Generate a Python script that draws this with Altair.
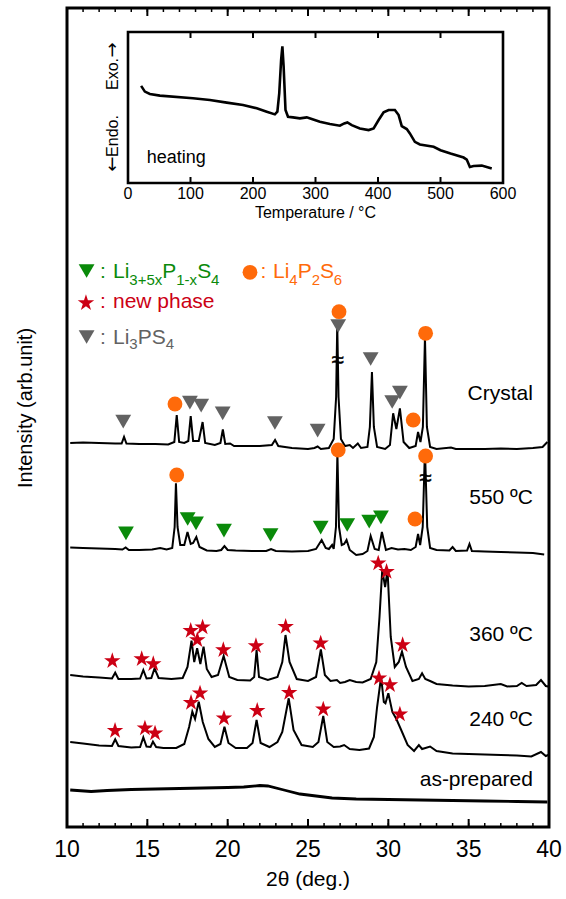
import altair as alt
import pandas as pd

# ---------------- XRD patterns: 2theta (deg) and stacked intensity (arb. unit) ----------------
crystal_tt = [10.2, 11.0, 12.0, 13.0, 13.4, 13.55, 13.7, 14.5, 15.5, 16.3, 16.68, 16.83, 16.98, 17.3, 17.55, 17.7, 17.85, 18.2, 18.44, 18.6, 19.2, 19.55, 19.7, 19.85, 20.15, 20.4, 21.0, 22.0, 22.75, 22.95, 23.15, 24.0, 25.0, 25.4, 25.6, 25.8, 26.3, 26.6, 26.75, 26.82, 26.9, 27.05, 27.3, 27.6, 27.8, 28.1, 28.3, 28.7, 28.85, 28.98, 29.1, 29.3, 29.8, 30.1, 30.3, 30.5, 30.72, 30.95, 31.3, 31.7, 31.85, 32.0, 32.15, 32.28, 32.4, 32.6, 33.0, 33.9, 34.2, 35.0, 36.0, 37.0, 38.0, 39.0, 39.6, 39.9]
crystal_I = [384, 384.5, 384, 383.5, 383.5, 390, 383.5, 383, 383, 382.5, 385, 412, 385, 384, 386, 411, 386, 386, 405, 384, 382, 384, 397.5, 383, 383.5, 381, 381, 381, 382, 387, 381, 379, 378, 379, 380.5, 378, 379, 388, 430, 503, 430, 388, 381, 382, 379, 383.5, 379, 380, 400, 455, 400, 380, 378, 382, 413.7, 398, 418.7, 385, 379, 381, 395, 385, 400, 490, 400, 380, 378, 379.5, 378, 378, 378, 378.5, 378, 379, 380, 385]

c550_tt = [10.2, 11.0, 12.0, 13.0, 13.45, 13.65, 13.85, 14.5, 15.3, 15.8, 16.2, 16.55, 16.7, 16.78, 16.88, 17.05, 17.3, 17.5, 17.7, 17.85, 18.05, 18.25, 18.7, 19.3, 19.6, 19.8, 20.0, 20.5, 21.5, 22.4, 22.7, 23.0, 24.0, 25.0, 25.5, 25.85, 26.1, 26.3, 26.5, 26.6, 26.74, 26.83, 26.93, 27.1, 27.25, 27.4, 27.6, 28.0, 28.4, 28.7, 28.9, 29.15, 29.4, 29.6, 29.85, 30.2, 30.6, 31.0, 31.4, 31.7, 31.85, 31.98, 32.14, 32.28, 32.42, 32.6, 33.0, 33.8, 34.0, 34.2, 34.9, 35.05, 35.2, 36.0, 37.0, 38.0, 39.0, 39.7]
c550_I = [279.5, 279, 278.5, 278, 277.5, 279.5, 277, 277, 277.5, 279, 277.5, 279, 300, 343.7, 300, 282, 282, 295, 283, 284, 290, 280, 276.5, 276, 277, 281, 277, 276.5, 276, 276, 278, 276, 275.5, 276, 278, 287, 279, 278, 282, 278, 300, 373.7, 300, 282, 283, 287, 277, 272, 273, 276, 291, 278, 277, 295, 277, 279, 277.5, 278, 277, 280, 293, 282, 300, 378, 300, 279, 277, 276.5, 280, 276, 276.5, 283, 276, 275.5, 275, 274.5, 274, 272.5]

c360_tt = [10.2, 11.0, 12.0, 12.8, 13.0, 13.2, 14.0, 14.55, 14.75, 14.95, 15.25, 15.45, 15.7, 16.5, 17.2, 17.5, 17.75, 17.92, 18.1, 18.3, 18.5, 18.7, 19.0, 19.4, 19.75, 20.1, 20.6, 21.4, 21.65, 21.8, 21.95, 22.5, 23.1, 23.4, 23.6, 23.85, 24.3, 25.0, 25.5, 25.8, 26.05, 26.4, 26.8, 27.0, 27.3, 27.6, 28.0, 28.4, 28.9, 29.25, 29.45, 29.62, 29.8, 29.95, 30.15, 30.4, 30.65, 30.85, 31.1, 31.5, 31.9, 32.1, 32.3, 32.6, 33.0, 34.0, 35.0, 36.0, 37.0, 37.4, 38.0, 38.3, 38.6, 39.2, 39.5, 39.8, 39.95]
c360_I = [152, 150.5, 149.5, 148.5, 154.3, 148, 148, 148.5, 157, 148.5, 149, 158.7, 149, 148, 149, 160, 186.3, 165, 178.7, 163, 180.3, 158, 150, 152, 171, 150, 147, 146.5, 150, 177, 150, 147, 150, 165, 192, 165, 148, 146, 150, 177.7, 152, 146, 147, 144, 145, 147, 145, 144.5, 148, 165, 210, 257, 240, 257, 190, 160, 165, 175.3, 160, 146, 148, 153.7, 148, 146, 143, 141.5, 140.5, 141, 143, 140.5, 141, 144, 141, 142, 147, 141, 140.5]

c240_tt = [10.2, 11.0, 12.0, 12.8, 13.0, 13.2, 14.0, 14.55, 14.75, 14.95, 15.2, 15.35, 15.55, 16.0, 16.8, 17.3, 17.6, 17.8, 17.97, 18.2, 18.45, 18.8, 19.2, 19.55, 19.8, 20.05, 20.5, 21.2, 21.55, 21.8, 22.05, 22.6, 23.1, 23.4, 23.8, 24.1, 24.6, 25.3, 25.65, 25.95, 26.2, 26.6, 27.0, 27.25, 27.6, 28.2, 28.8, 29.1, 29.3, 29.55, 29.72, 29.82, 30.0, 30.25, 30.5, 30.8, 31.2, 31.6, 31.9, 32.1, 32.6, 33.0, 34.0, 35.0, 36.0, 37.0, 38.0, 38.9, 39.5, 39.8, 39.95]
c240_I = [85, 83.5, 81.5, 81, 87.7, 81, 79.5, 80, 89.7, 80.5, 80, 85.3, 80, 79, 79, 83, 100, 115.3, 108, 125.3, 105, 88, 80, 83, 100.3, 84, 79, 79, 84, 107, 84, 80, 85, 95, 128.7, 97, 82, 80, 85, 111, 85, 80, 80.5, 82, 78, 77, 78.5, 90, 120, 150, 125, 123.7, 133.7, 115, 108, 97, 82, 76, 82, 78, 80.5, 76, 73.5, 73, 72.5, 72, 71.5, 70.5, 75, 71, 72]

asprep_tt = [10.2, 11.5, 12.5, 14.0, 15.5, 17.0, 18.5, 20.0, 21.0, 22.0, 22.5, 23.5, 24.5, 25.5, 26.5, 28.0, 30.0, 32.0, 34.0, 36.0, 38.0, 39.9]
asprep_I = [37, 35.5, 36.5, 37.5, 38, 38.5, 39, 39.5, 40, 41.5, 41, 37, 33, 31, 29, 28, 27.5, 27, 26.5, 26, 25.5, 25]

pattern_names = ["Crystal", "550 ºC", "360 ºC", "240 ºC"]
pattern_tt = [crystal_tt, c550_tt, c360_tt, c240_tt]
pattern_I = [crystal_I, c550_I, c360_I, c240_I]
label_names = ["Crystal", "550 ºC", "360 ºC", "240 ºC", "as-prepared"]
label_I = [433, 329, 192, 107, 47]
label_tt = [39.0, 39.0, 39.0, 39.0, 39.0]

# ---------------- phase markers (last item of each list = legend symbol) ----------------
gray_tt = [13.50, 17.65, 18.35, 19.69, 22.94, 25.60, 26.88, 28.90, 30.24, 30.72, 11.22]
gray_I = [405.3, 424.3, 421.3, 413.7, 404, 396.3, 501, 468, 425, 434.3, 490]
green_tt = [13.67, 17.51, 18.03, 19.77, 22.67, 25.79, 27.44, 28.81, 29.54, 11.22]
green_I = [293.7, 308, 303.7, 296.3, 292, 299.3, 302, 305.3, 309.7, 556]
orange_tt = [16.72, 26.93, 31.55, 32.32, 16.83, 26.88, 31.66, 32.32, 21.39]
orange_I = [423, 515.3, 407, 493.7, 352, 377, 308, 371, 554.7]
star_tt = [12.82, 14.65, 15.37, 17.70, 18.11, 18.44, 19.73, 21.76, 23.61, 25.79, 29.37, 29.89, 30.89,
           12.99, 14.85, 15.48, 17.72, 18.28, 19.77, 21.84, 23.83, 25.95, 29.42, 30.10, 30.72, 11.18]
star_I = [166, 168, 163, 196.3, 187, 199.7, 177, 181, 200.3, 183.7, 263.7, 255.3, 182,
          96.3, 98.7, 93.7, 124.3, 133.7, 108.7, 116.3, 134.3, 117.7, 148.7, 142, 112.7, 524]

# axis-break marks on clipped peaks
break_tt = [26.84, 32.30]
break_I = [467, 349]

# legend text pieces: (text, 2theta, intensity)
leg_green_main = [(":", 12.05, 549), ("Li", 12.86, 549), ("P", 15.93, 549), ("S", 18.10, 549)]
leg_green_sub = [("3+5x", 13.88, 542), ("1-x", 16.80, 542), ("4", 18.97, 542)]
leg_orange_main = [(":", 22.05, 549), ("Li", 22.82, 549), ("P", 24.36, 549), ("S", 25.74, 549)]
leg_orange_sub = [("4", 23.83, 542), ("2", 25.23, 542), ("6", 26.61, 542)]
leg_red_main = [(":", 12.05, 519), ("new phase", 12.86, 519)]
leg_gray_main = [(":", 12.05, 483), ("Li", 12.86, 483), ("PS", 14.40, 483)]
leg_gray_sub = [("3", 13.88, 478), ("4", 16.14, 478)]

# axis ticks
x_major = [10, 15, 20, 25, 30, 35, 40]
x_minor = list(range(10, 41))
x_title = "2θ (deg.)"
y_title = "Intensity (arb.unit)"

# ---------------- DSC inset ----------------
dsc_T = [21, 27, 35, 51, 104, 131, 158, 184, 206, 222, 235, 239, 242, 245, 247, 249, 252, 256, 264, 275, 286, 294, 307, 323, 339, 346, 351, 358, 371, 385, 393, 401, 409, 417, 427, 433, 438, 446, 451, 459, 467, 489, 500, 516, 537, 542, 547, 553, 566, 582]
dsc_v = [290, 273, 266, 261, 253, 248, 240, 233, 223, 213, 205, 213, 268, 368, 408, 348, 218, 198, 196, 193, 196, 191, 183, 176, 171, 178, 181, 173, 163, 158, 163, 188, 211, 218, 218, 203, 170, 161, 148, 123, 115, 108, 98, 88, 76, 70, 48, 51, 52, 43]
dsc_T_domain = [0, 600]
dsc_v_domain = [0, 451]
dsc_ticks = [0, 100, 200, 300, 400, 500, 600]
dsc_x_title = "Temperature / °C"
dsc_y_words = ["Endo.", "Exo."]
dsc_y_arrows = ["←", "→"]
heating_T = [30]
heating_v = [74]

# ---------------- build tables ----------------
rows = []
for name, tt, ii in zip(pattern_names, pattern_tt, pattern_I):
    assert len(tt) == len(ii), name
    for a, b in zip(tt, ii):
        rows.append({"pattern": name, "tt": a, "I": b})
xrd = pd.DataFrame(rows)
asprep = pd.DataFrame({"tt": asprep_tt, "I": asprep_I})
labels_df = pd.DataFrame({"text": label_names, "tt": label_tt, "I": label_I})


def pts(tt, ii):
    assert len(tt) == len(ii)
    return pd.DataFrame({"tt": tt, "I": ii})


def seg(lst):
    return pd.DataFrame(lst, columns=["text", "tt", "I"])


dsc = pd.DataFrame({"T": dsc_T, "v": dsc_v})
frame_df = pd.DataFrame({"T0": [dsc_T_domain[0]], "T1": [dsc_T_domain[1]],
                         "v0": [dsc_v_domain[0]], "v1": [dsc_v_domain[1]]})
heat_df = pd.DataFrame({"T": heating_T, "v": heating_v, "text": ["heating"]})

FONT = "Liberation Sans"
GREEN, ORANGE, RED, GRAY = "#0a8a0a", "#ff6a0a", "#cc0014", "#626262"
STAR = ("M0,-1L0.2245,-0.309L0.951,-0.309L0.363,0.118L0.588,0.809L0,0.382"
        "L-0.588,0.809L-0.363,0.118L-0.951,-0.309L-0.2245,-0.309Z")
W, H = 482, 819

xs = alt.Scale(domain=[10, 40], nice=False, zero=False)
ys = alt.Scale(domain=[0, 819], nice=False, zero=False)


def X():
    return alt.X("tt:Q", scale=xs, axis=None, title=None)


def Y():
    return alt.Y("I:Q", scale=ys, axis=None)


lines = alt.Chart(xrd).mark_line(color="black", strokeWidth=2).encode(
    x=X(), y=Y(), detail="pattern:N")
asprep_line = alt.Chart(asprep).mark_line(color="black", strokeWidth=2.8).encode(x=X(), y=Y())

# frame ticks (inward) and tick labels / titles
tick_layers = []
for vals, length, sw in [(x_minor, 4, 1.5), (x_major, 8, 2)]:
    tdf = pd.DataFrame({"tt": vals})
    tick_layers.append(alt.Chart(tdf).mark_rule(color="black", strokeWidth=sw).encode(
        x=X(), y=alt.value(H), y2=alt.value(H - length)))
    tick_layers.append(alt.Chart(tdf).mark_rule(color="black", strokeWidth=sw).encode(
        x=X(), y=alt.value(0), y2=alt.value(length)))

xlab_df = pd.DataFrame({"tt": x_major, "text": [str(v) for v in x_major]})
x_labels = alt.Chart(xlab_df).mark_text(
    font=FONT, fontSize=23, align="center", baseline="middle", color="black").encode(
    x=X(), y=alt.value(H + 23), text="text:N")
x_title_mark = alt.Chart(pd.DataFrame({"text": [x_title]})).mark_text(
    font=FONT, fontSize=21, align="center", baseline="middle", color="black").encode(
    x=alt.value(W / 2), y=alt.value(H + 53), text="text:N")
y_title_mark = alt.Chart(pd.DataFrame({"text": [y_title]})).mark_text(
    font=FONT, fontSize=20, angle=270, align="center", baseline="middle", color="black").encode(
    x=alt.value(-41), y=alt.value(400), text="text:N")

gray = alt.Chart(pts(gray_tt, gray_I)).mark_point(
    shape="triangle-down", filled=True, size=250, color=GRAY, opacity=1).encode(x=X(), y=Y())
green = alt.Chart(pts(green_tt, green_I)).mark_point(
    shape="triangle-down", filled=True, size=250, color=GREEN, opacity=1).encode(x=X(), y=Y())
orange = alt.Chart(pts(orange_tt, orange_I)).mark_point(
    shape="circle", filled=True, size=220, color=ORANGE, opacity=1).encode(x=X(), y=Y())
stars = alt.Chart(pts(star_tt, star_I)).mark_point(
    shape=STAR, filled=True, size=300, color=RED, opacity=1).encode(x=X(), y=Y())

sample_labels = alt.Chart(labels_df).mark_text(
    font=FONT, fontSize=21, align="right", baseline="middle", color="black").encode(
    x=X(), y=Y(), text="text:N")

breaks = alt.Chart(pts(break_tt, break_I)).mark_text(
    text="≈", font=FONT, fontSize=22, color="black", stroke="black", strokeWidth=0.5,
    align="center", baseline="middle").encode(x=X(), y=Y())


def legtext(lst, color, size):
    return alt.Chart(seg(lst)).mark_text(
        font=FONT, fontSize=size, align="left", baseline="alphabetic", color=color).encode(
        x=X(), y=Y(), text="text:N")


legend_layers = [
    legtext(leg_green_main, GREEN, 21), legtext(leg_green_sub, GREEN, 15),
    legtext(leg_orange_main, ORANGE, 21), legtext(leg_orange_sub, ORANGE, 15),
    legtext(leg_red_main, RED, 21),
    legtext(leg_gray_main, GRAY, 21), legtext(leg_gray_sub, GRAY, 15),
]

main = alt.layer(lines, asprep_line, *tick_layers, x_labels, x_title_mark, y_title_mark,
                 gray, green, orange, stars, sample_labels, breaks, *legend_layers)

# ---------------- inset (DSC) ----------------
IX0, IX1, IY0, IY1 = 61, 436, 175, 24   # inset box inside the plot area (px)
ins_x = alt.Scale(domain=dsc_T_domain, range=[IX0, IX1], nice=False, zero=False)
ins_y = alt.Scale(domain=dsc_v_domain, range=[IY0, IY1], nice=False, zero=False)


def IX():
    return alt.X("T:Q", scale=ins_x, axis=None, title=None)


def IY():
    return alt.Y("v:Q", scale=ins_y, axis=None)


dsc_line = alt.Chart(dsc).mark_line(color="black", strokeWidth=2.6).encode(x=IX(), y=IY())
ins_frame = alt.Chart(frame_df).mark_rect(
    fillOpacity=0, stroke="black", strokeWidth=2.6).encode(
    x=alt.X("T0:Q", scale=ins_x, axis=None, title=None), x2="T1:Q",
    y=alt.Y("v0:Q", scale=ins_y, axis=None), y2="v1:Q",
)
ins_tdf = pd.DataFrame({"T": dsc_ticks, "text": [str(v) for v in dsc_ticks]})
ins_ticks_b = alt.Chart(ins_tdf).mark_rule(color="black", strokeWidth=2).encode(
    x=IX(), y=alt.value(IY0), y2=alt.value(IY0 - 6))
ins_ticks_t = alt.Chart(ins_tdf).mark_rule(color="black", strokeWidth=2).encode(
    x=IX(), y=alt.value(IY1), y2=alt.value(IY1 + 6))
ins_labels = alt.Chart(ins_tdf).mark_text(
    font=FONT, fontSize=16, align="center", baseline="middle", color="black").encode(
    x=IX(), y=alt.value(IY0 + 11), text="text:N")
ins_xtitle = alt.Chart(pd.DataFrame({"text": [dsc_x_title]})).mark_text(
    font=FONT, fontSize=16, align="center", baseline="middle", color="black").encode(
    x=alt.value((IX0 + IX1) / 2), y=alt.value(IY0 + 30), text="text:N")
# rotated y title of the inset: "← Endo."  ...  "Exo. →"
ins_yt_endo = alt.Chart(pd.DataFrame({"text": [dsc_y_words[0]]})).mark_text(
    font=FONT, fontSize=16, angle=270, align="center", baseline="middle", color="black").encode(
    x=alt.value(IX0 - 15), y=alt.value(128), text="text:N")
ins_yt_exo = alt.Chart(pd.DataFrame({"text": [dsc_y_words[1]]})).mark_text(
    font=FONT, fontSize=16, angle=270, align="center", baseline="middle", color="black").encode(
    x=alt.value(IX0 - 15), y=alt.value(66), text="text:N")
ins_yt_down = alt.Chart(pd.DataFrame({"text": [dsc_y_arrows[0]]})).mark_text(
    font="DejaVu Sans", fontSize=18, angle=270, align="center", baseline="middle",
    color="black").encode(x=alt.value(IX0 - 15), y=alt.value(156), text="text:N")
ins_yt_up = alt.Chart(pd.DataFrame({"text": [dsc_y_arrows[1]]})).mark_text(
    font="DejaVu Sans", fontSize=18, angle=270, align="center", baseline="middle",
    color="black").encode(x=alt.value(IX0 - 15), y=alt.value(42), text="text:N")
heat = alt.Chart(heat_df).mark_text(
    font=FONT, fontSize=18, align="left", baseline="middle", color="black").encode(
    x=IX(), y=IY(), text="text:N")

inset = alt.layer(dsc_line, ins_frame, ins_ticks_b, ins_ticks_t, ins_labels, ins_xtitle,
                  ins_yt_endo, ins_yt_exo, ins_yt_down, ins_yt_up, heat)

chart = alt.layer(main, inset).resolve_scale(x="independent", y="independent").properties(
    width=W, height=H,
    autosize=alt.AutoSizeParams(type="none"),
    padding={"left": 67, "top": 8, "right": 17, "bottom": 72},
).configure_view(stroke="black", strokeWidth=3)

chart.save("out.html", embed_options={"renderer": "svg", "actions": False})
